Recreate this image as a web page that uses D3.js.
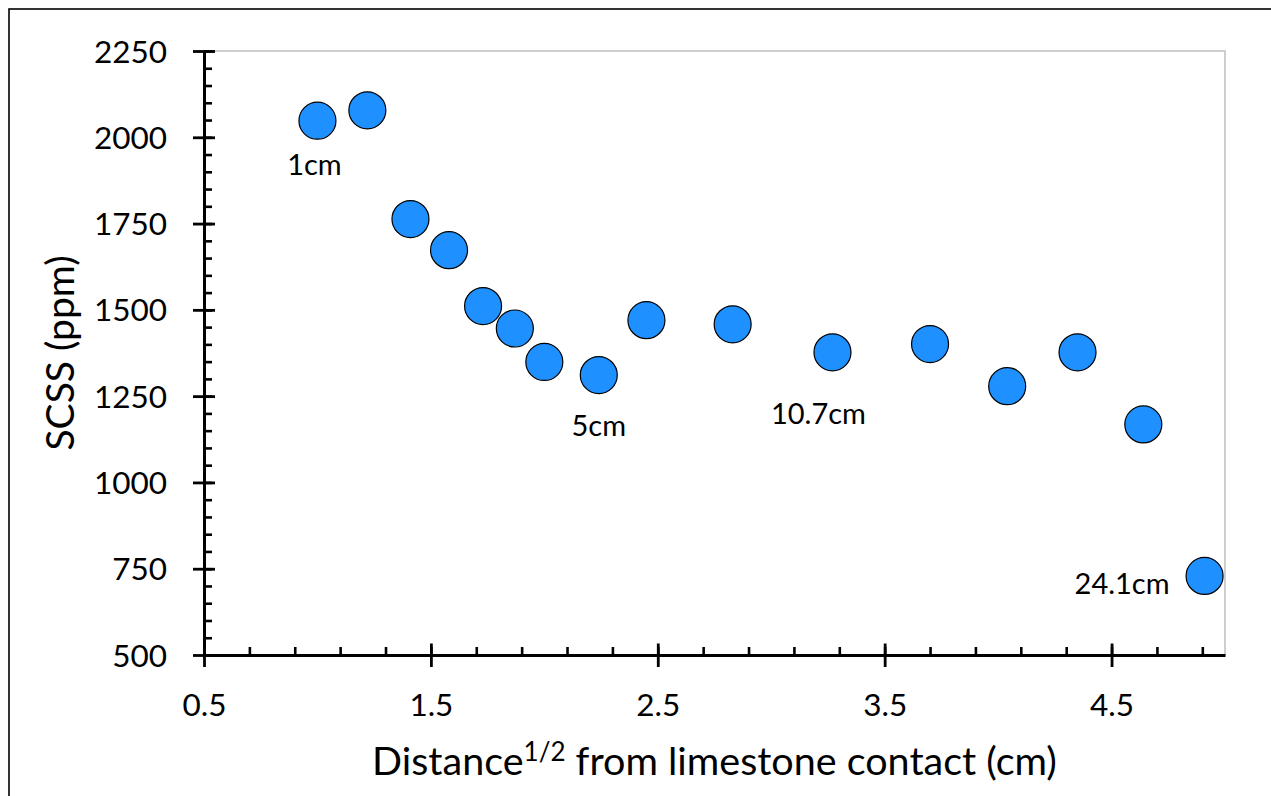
<!DOCTYPE html>
<html>
<head>
<meta charset="utf-8">
<script src="https://cdn.jsdelivr.net/npm/d3@7"></script>
<style>
  html, body { margin: 0; padding: 0; background: #fff; }
  svg { display: block; }
  text { font-family: Lato, "Open Sans", sans-serif; fill: #000; }
</style>
</head>
<body>
<svg id="chart" width="1271" height="796"></svg>
<script>
// ---- data ----
const xValues = [1.00, 1.22, 1.41, 1.58, 1.73, 1.87, 2.00, 2.24, 2.45, 2.83, 3.27, 3.70, 4.04, 4.35, 4.64, 4.91];
const scssValues = [2048, 2078, 1763, 1673, 1511, 1446, 1349, 1311, 1470, 1458, 1377, 1401, 1279, 1377, 1168, 729];
const labelIndex = [0, 7, 10, 15];
const labelTexts = ["1cm", "5cm", "10.7cm", "24.1cm"];
const xTicks = [0.5, 1.5, 2.5, 3.5, 4.5];
const yTicks = [500, 750, 1000, 1250, 1500, 1750, 2000, 2250];
const xMinorTicks = d3.range(0.5, 5.0001, 0.2);
const yMinorTicks = d3.range(500, 2250.001, 50);

// ---- layout ----
const W = 1271, H = 796;
const plot = { left: 204, right: 1225, top: 51, bottom: 655 };
const labelOffsets = [
  { dx: -3, dy: 54, anchor: "middle" },
  { dx: 0, dy: 61, anchor: "middle" },
  { dx: -14, dy: 72, anchor: "middle" },
  { dx: -35, dy: 18, anchor: "end" }
];

const svg = d3.select("#chart");

// outer border
svg.append("rect")
  .attr("x", 9).attr("y", 9)
  .attr("width", W + 20).attr("height", H + 20)
  .attr("fill", "none").attr("stroke", "#000").attr("stroke-width", 1.6);

const x = d3.scaleLinear().domain([0.5, 5]).range([plot.left, plot.right]);
const y = d3.scaleLinear().domain([500, 2250]).range([plot.bottom, plot.top]);

// plot area border (top & right)
svg.append("path")
  .attr("d", `M${plot.left},${y(2250)}H${x(5)}V${plot.bottom}`)
  .attr("fill", "none").attr("stroke", "#bfbfbf").attr("stroke-width", 1.5);

// minor ticks (inside)
const xMinor = d3.axisTop(x).tickValues(xMinorTicks).tickSize(8).tickFormat("");
svg.append("g").attr("transform", `translate(0,${plot.bottom})`).call(xMinor)
  .call(g => g.select(".domain").remove())
  .selectAll("line").attr("stroke", "#000").attr("stroke-width", 2.6);

const yMinor = d3.axisRight(y).tickValues(yMinorTicks).tickSize(8).tickFormat("");
svg.append("g").attr("transform", `translate(${plot.left},0)`).call(yMinor)
  .call(g => g.select(".domain").remove())
  .selectAll("line").attr("stroke", "#000").attr("stroke-width", 2.6);

// major axes (ticks crossing)
const xAxis = d3.axisBottom(x).tickValues(xTicks).tickSize(0).tickFormat(d3.format(".1f"));
const gx = svg.append("g").attr("transform", `translate(0,${plot.bottom})`).call(xAxis);
gx.select(".domain").attr("stroke", "#000").attr("stroke-width", 3);
gx.selectAll(".tick line").attr("y1", -11.5).attr("y2", 12).attr("stroke", "#000").attr("stroke-width", 2.8);
gx.selectAll(".tick text").attr("y", 61).attr("dy", 0)
  .style("font-size", "31.5px").style("font-family", "Lato");

const yAxis = d3.axisLeft(y).tickValues(yTicks).tickSize(0).tickFormat(d3.format("d"));
const gy = svg.append("g").attr("transform", `translate(${plot.left},0)`).call(yAxis);
gy.select(".domain").attr("stroke", "#000").attr("stroke-width", 3);
gy.selectAll(".tick line").attr("x1", -11).attr("x2", 11).attr("stroke", "#000").attr("stroke-width", 2.8);
gy.selectAll(".tick text").attr("x", -37).attr("dy", 11)
  .style("font-size", "31.5px").style("font-family", "Lato");

// points
const pts = xValues.map((v, i) => ({ x: v, y: scssValues[i] }));
svg.append("g").selectAll("circle").data(pts).join("circle")
  .attr("cx", d => x(d.x)).attr("cy", d => y(d.y)).attr("r", 18.5)
  .attr("fill", "#1e90ff").attr("stroke", "#000").attr("stroke-width", 1.2);

// data labels
svg.append("g").selectAll("text").data(labelIndex).join("text")
  .attr("x", (d, i) => x(xValues[d]) + labelOffsets[i].dx)
  .attr("y", (d, i) => y(scssValues[d]) + labelOffsets[i].dy)
  .attr("text-anchor", (d, i) => labelOffsets[i].anchor)
  .style("font-size", "29px")
  .text((d, i) => labelTexts[i]);

// axis titles
const xt = svg.append("text")
  .attr("x", (plot.left + plot.right) / 2).attr("y", 775)
  .attr("text-anchor", "middle").style("font-size", "39.5px");
xt.append("tspan").text("Distance");
xt.append("tspan").text("1/2").style("font-size", "26px").attr("dy", -14);
xt.append("tspan").text(" from limestone contact (cm)").attr("dy", 14);

svg.append("text")
  .attr("transform", `translate(74,${(plot.top + plot.bottom) / 2}) rotate(-90)`)
  .attr("text-anchor", "middle").style("font-size", "39px")
  .text("SCSS (ppm)");
</script>
</body>
</html>
